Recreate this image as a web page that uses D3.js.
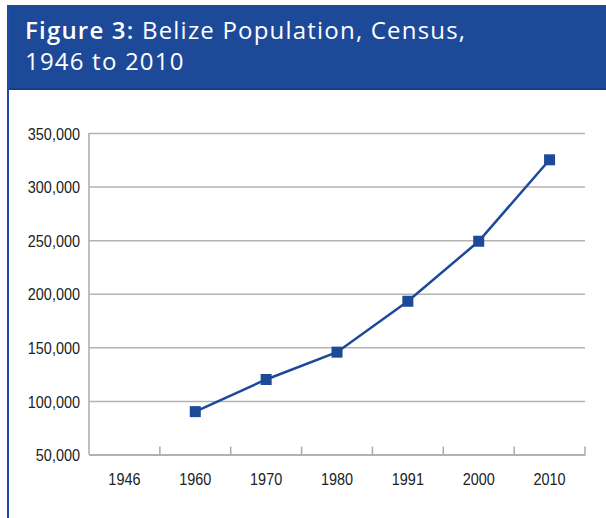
<!DOCTYPE html>
<html>
<head>
<meta charset="utf-8">
<script src="https://cdn.jsdelivr.net/npm/d3@7"></script>
<style>
  body { margin: 0; background: #fff; }
  svg { display: block; }
  .title { font-family: "Open Sans", sans-serif; font-size: 24px; letter-spacing: 1.2px; fill: #fff; }
  .tick text { font-family: "Liberation Sans", Arial, sans-serif; font-size: 17px; fill: #222; }
</style>
</head>
<body>
<div id="chart"></div>
<script>
// chart data
const years = ['1946', '1960', '1970', '1980', '1991', '2000', '2010'];
const population = [null, 90000, 120000, 145500, 193000, 249000, 325000];
const yTicks = [50000, 100000, 150000, 200000, 250000, 300000, 350000];

const width = 606, height = 518;
const margin = { top: 133, right: 21, bottom: 63.5, left: 89 };
const blue = '#1d4999';
const squeeze = 0.85; // condensed look for tick labels

const svg = d3.select('#chart')
  .append('svg')
  .attr('width', width)
  .attr('height', height);

// header band + left border
svg.append('rect')
  .attr('x', 7).attr('y', 5)
  .attr('width', width - 7).attr('height', 85)
  .attr('fill', blue);
svg.append('rect')
  .attr('x', 7).attr('y', 88)
  .attr('width', width - 7).attr('height', 2)
  .attr('fill', '#17408a');
svg.append('line')
  .attr('x1', 8).attr('x2', 8)
  .attr('y1', 5).attr('y2', height)
  .attr('stroke', '#1f4ca6').attr('stroke-width', 2);

// two-line title in one text element
const title = svg.append('text').attr('class', 'title');
const l1 = title.append('tspan').attr('x', 25).attr('y', 39);
l1.append('tspan').attr('font-weight', 600).text('Figure 3:');
l1.append('tspan').text(' Belize Population, Census,');
title.append('tspan').attr('x', 25).attr('y', 70).text('1946 to 2010');

const x = d3.scaleBand()
  .domain(years)
  .range([margin.left, width - margin.right])
  .padding(0);

const y = d3.scaleLinear()
  .domain([50000, 350000])
  .range([height - margin.bottom, margin.top]);

// gridlines + y labels
const yAxis = svg.append('g')
  .attr('transform', 'translate(' + margin.left + ',0)')
  .call(d3.axisLeft(y)
    .tickValues(yTicks)
    .tickSize(-(width - margin.right - margin.left))
    .tickPadding(9)
    .tickFormat(d3.format(',')));
yAxis.select('.domain').remove();
yAxis.selectAll('.tick line')
  .attr('stroke', '#b3b3b3')
  .attr('stroke-width', 1.5);
yAxis.selectAll('.tick text')
  .attr('dy', '0.36em')
  .attr('x', null)
  .attr('transform', 'translate(-9,0) scale(' + squeeze + ',1)');

// y axis line
svg.append('line')
  .attr('x1', margin.left).attr('x2', margin.left)
  .attr('y1', margin.top).attr('y2', y(50000))
  .attr('stroke', '#aaa').attr('stroke-width', 1.5);

// x axis labels
const xAxis = svg.append('g')
  .attr('transform', 'translate(0,' + y(50000) + ')')
  .call(d3.axisBottom(x).tickSize(0).tickPadding(18));
xAxis.select('.domain')
  .attr('stroke', '#aaa')
  .attr('stroke-width', 1.5);
xAxis.selectAll('.tick text')
  .attr('transform', 'scale(' + squeeze + ',1)');

// tick marks at category boundaries, pointing up
xAxis.selectAll('.sep')
  .data(years)
  .enter().append('line')
  .attr('class', 'sep')
  .attr('x1', d => x(d) + x.bandwidth())
  .attr('x2', d => x(d) + x.bandwidth())
  .attr('y1', 0).attr('y2', -8)
  .attr('stroke', '#aaa').attr('stroke-width', 1.5);

const pts = years.map((d, i) => ({ year: d, value: population[i] }))
  .filter(d => d.value != null);

const line = d3.line()
  .x(d => x(d.year) + x.bandwidth() / 2)
  .y(d => y(d.value));

svg.append('path')
  .datum(pts)
  .attr('d', line)
  .attr('fill', 'none')
  .attr('stroke', blue)
  .attr('stroke-width', 2.5);

svg.selectAll('.marker')
  .data(pts)
  .enter().append('rect')
  .attr('class', 'marker')
  .attr('x', d => x(d.year) + x.bandwidth() / 2 - 5.5)
  .attr('y', d => y(d.value) - 5.5)
  .attr('width', 11).attr('height', 11)
  .attr('fill', blue);
</script>
</body>
</html>
